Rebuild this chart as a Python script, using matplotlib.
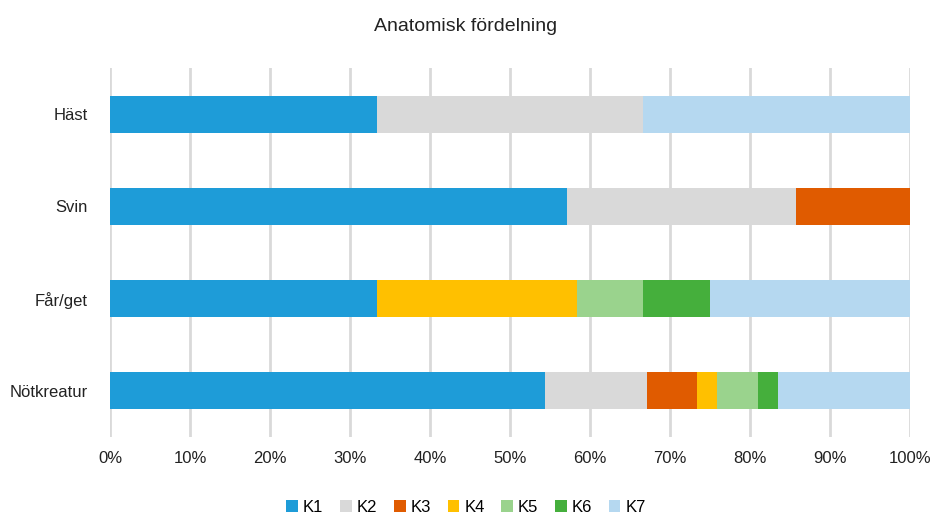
import matplotlib
matplotlib.use("Agg")
import matplotlib.pyplot as plt
import numpy as np
from matplotlib.ticker import PercentFormatter

plt.rcParams["font.family"] = ["Liberation Sans", "DejaVu Sans"]

categories = ["Häst", "Svin", "Får/get", "Nötkreatur"]
series = ["K1", "K2", "K3", "K4", "K5", "K6", "K7"]
# share (%) per category, one list per series
k1 = [33.33, 57.14, 33.33, 54.4]
k2 = [33.33, 28.57, 0.0, 12.7]
k3 = [0.0, 14.29, 0.0, 6.3]
k4 = [0.0, 0.0, 25.0, 2.5]
k5 = [0.0, 0.0, 8.33, 5.1]
k6 = [0.0, 0.0, 8.33, 2.5]
k7 = [33.33, 0.0, 25.0, 16.5]
colors = ["#1E9CD8", "#D9D9D9", "#E05B00", "#FFC000", "#9AD38D", "#45AF3C", "#B5D8F0"]

values = [k1, k2, k3, k4, k5, k6, k7]

fig = plt.figure(figsize=(9.32, 5.17), dpi=100)
ax = fig.add_axes([110 / 932, 80 / 517, 800 / 932, 369 / 517])

y = np.arange(len(categories))
left = np.zeros(len(categories))
for name, vals, col in zip(series, values, colors):
    ax.barh(y, vals, left=left, height=0.4, color=col, label=name, zorder=3)
    left += np.array(vals)

ax.set_xlim(0, 100)
ax.set_ylim(3.5, -0.5)
ax.set_yticks(y)
ax.set_yticklabels(categories)
ax.set_xticks(np.arange(0, 101, 10))
ax.xaxis.set_major_formatter(PercentFormatter(decimals=0))
ax.tick_params(length=0, labelsize=12, colors="#222222")
ax.tick_params(axis="x", pad=10)
ax.tick_params(axis="y", pad=16)
ax.grid(axis="x", color="#D9D9D9", linewidth=2, zorder=0)
for s in ax.spines.values():
    s.set_visible(False)

fig.suptitle("Anatomisk fördelning", y=0.965, fontsize=14, color="#222222")
fig.legend(loc="lower center", bbox_to_anchor=(0.5, -0.025), ncol=7, frameon=False,
           fontsize=12, handlelength=0.7, handleheight=0.7, handletextpad=0.3,
           columnspacing=1.0)

fig.savefig("out.png", dpi=100)
